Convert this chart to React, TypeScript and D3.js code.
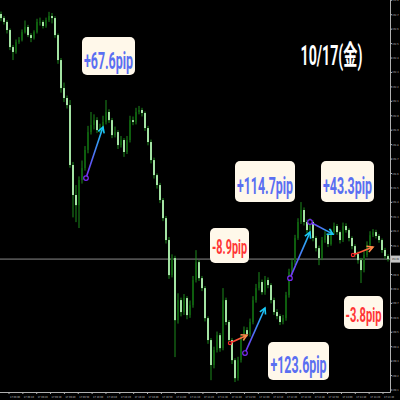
import React from 'react';
import * as d3 from 'd3';

// ---- data ----
const FIRST_OPEN = 152.705;
const closes = [
  152.677, 152.65, 152.594, 152.476, 152.442, 152.511, 152.525, 152.58, 152.615, 152.559,
  152.539, 152.58, 152.65, 152.65, 152.622, 152.663, 152.691, 152.677, 152.559, 152.386,
  152.192, 152.123, 152.074, 151.659, 151.451, 151.381, 151.555, 151.638, 151.763, 151.887,
  151.936, 151.97, 151.901, 151.915, 151.957, 152.026, 151.97, 151.866, 151.887, 151.797,
  151.832, 151.749, 151.832, 151.97, 151.957, 152.026, 152.04, 152.019, 151.915, 151.818,
  151.693, 151.589, 151.52, 151.416, 151.291, 151.139, 150.896, 151.014, 150.584, 150.723,
  150.64, 150.737, 150.619, 150.688, 150.862, 150.986, 150.875, 150.806, 150.598, 150.446,
  150.273, 150.377, 150.48, 150.39, 150.723, 150.571, 150.446, 150.307, 150.182, 150.307,
  150.46, 150.515, 150.487, 150.571, 150.723, 150.806, 150.848, 150.778, 150.862, 150.827,
  150.723, 150.64, 150.612, 150.571, 150.598, 150.758, 150.917, 150.986, 151.153, 151.264,
  151.347, 151.264, 151.208, 151.264, 151.153, 151.083, 151.014, 151.139, 151.173, 151.111,
  151.194, 151.236, 151.194, 151.139, 151.236, 151.208, 151.153, 151.097, 151.042, 151.0,
  150.931, 151.035, 151.104, 151.173, 151.194, 151.167, 151.139, 151.07, 151.028, 151.007,
];
const highs = [
  152.722, 152.69, 152.662, 152.605, 152.49, 152.528, 152.545, 152.598, 152.66, 152.63,
  152.572, 152.592, 152.672, 152.68, 152.662, 152.68, 152.72, 152.712, 152.69, 152.57,
  152.4, 152.23, 152.14, 152.109, 151.68, 151.52, 151.58, 151.69, 151.79, 151.93,
  152.026, 152.01, 151.99, 151.945, 152.0, 152.109, 152.045, 151.985, 151.925, 151.9,
  151.86, 151.845, 151.86, 152.0, 151.995, 152.055, 152.068, 152.055, 152.03, 151.93,
  151.835, 151.71, 151.6, 151.535, 151.43, 151.305, 151.16, 151.04, 151.03, 150.77,
  150.74, 150.765, 150.75, 150.72, 150.89, 151.069, 151.0, 150.89, 150.82, 150.61,
  150.46, 150.4, 150.505, 150.495, 150.806, 150.74, 150.585, 150.46, 150.32, 150.33,
  150.48, 150.54, 150.535, 150.595, 150.75, 150.835, 150.917, 150.865, 150.89, 150.88,
  150.84, 150.74, 150.66, 150.625, 150.62, 150.78, 150.94, 151.01, 151.175, 151.29,
  151.402, 151.365, 151.28, 151.29, 151.275, 151.165, 151.1, 151.16, 151.2, 151.185,
  151.215, 151.26, 151.25, 151.205, 151.26, 151.255, 151.22, 151.165, 151.11, 151.06,
  151.015, 151.06, 151.13, 151.2, 151.215, 151.21, 151.18, 151.15, 151.085, 151.04,
];
const lows = [
  152.655, 152.632, 152.57, 152.455, 152.386, 152.43, 152.498, 152.515, 152.57, 152.545,
  152.51, 152.528, 152.57, 152.625, 152.605, 152.61, 152.65, 152.64, 152.54, 152.36,
  152.16, 152.095, 152.05, 151.64, 151.296, 151.263, 151.222, 151.53, 151.62, 151.74,
  151.87, 151.905, 151.88, 151.88, 151.895, 151.94, 151.95, 151.845, 151.85, 151.77,
  151.78, 151.715, 151.735, 151.815, 151.935, 151.94, 152.01, 151.995, 151.895, 151.795,
  151.67, 151.565, 151.495, 151.395, 151.27, 151.115, 150.87, 150.88, 150.328, 150.56,
  150.61, 150.62, 150.59, 150.6, 150.67, 150.845, 150.855, 150.785, 150.575, 150.42,
  150.168, 150.25, 150.36, 150.365, 150.375, 150.55, 150.425, 150.28, 150.155, 150.165,
  150.29, 150.44, 150.47, 150.47, 150.555, 150.705, 150.79, 150.76, 150.76, 150.805,
  150.7, 150.62, 150.59, 150.55, 150.555, 150.58, 150.74, 150.895, 150.965, 151.14,
  151.25, 151.24, 151.185, 151.195, 151.13, 151.06, 150.965, 151.0, 151.12, 151.09,
  151.1, 151.18, 151.175, 151.115, 151.125, 151.19, 151.13, 151.075, 151.02, 150.975,
  150.841, 150.915, 151.02, 151.09, 151.16, 151.15, 151.12, 151.05, 151.01, 150.99,
];
const currentPrice = 151.007;

const priceTicks = [
  152.8, 152.7, 152.6, 152.5, 152.4, 152.3, 152.2, 152.1, 152.0, 151.9,
  151.8, 151.7, 151.6, 151.5, 151.4, 151.3, 151.2, 151.1, 151.0, 150.9,
  150.8, 150.7, 150.6, 150.5, 150.4, 150.3, 150.2, 150.1,
];
const timeLabels = [
  '17 09:00', '17 09:10', '17 09:20', '17 09:30', '17 09:40', '17 09:50', '17 10:00',
  '17 10:10', '17 10:20', '17 10:30', '17 10:40', '17 10:50', '17 11:00', '17 11:10',
  '17 11:20', '17 11:30', '17 11:40', '17 11:50', '17 12:00', '17 12:10', '17 12:20',
  '17 12:30', '17 12:40', '17 12:50', '17 13:00', '17 13:10', '17 13:20', '17 13:30',
];

// trades: entry/exit candle index and price
const tradeEntryIdx = [28.33, 76.33, 81.33, 96.33, 103, 117.33];
const tradeEntryPrice = [151.568, 150.425, 150.356, 150.875, 151.264, 151.035];
const tradeExitIdx = [34, 82, 88, 103, 110.67, 124];
const tradeExitPrice = [151.922, 150.48, 150.668, 151.194, 151.18, 151.09];
const tradeWin = [true, false, true, true, true, false];

const pipLabels = ['+67.6pip', '+114.7pip', '+43.3pip', '-8.9pip', '-3.8pip', '+123.6pip'];
const dateLabel = '10/17(金)';

// ---- layout (pixel placement of annotation boxes) ----
const labelBoxes = [
  { x: 82, y: 37, w: 53, h: 38, base: 68.5, tw: 49, fs: 23 },
  { x: 235, y: 161, w: 60, h: 41, base: 193.5, tw: 56, fs: 23 },
  { x: 321, y: 161, w: 53, h: 41, base: 193.5, tw: 49, fs: 23 },
  { x: 210, y: 228, w: 39, h: 35, base: 254, tw: 35, fs: 20 },
  { x: 344, y: 296, w: 39, h: 33, base: 321.5, tw: 36, fs: 20 },
  { x: 268, y: 342, w: 61, h: 38, base: 372.5, tw: 56, fs: 23 },
];

const W = 400, H = 400;
const AXIS_X = 390.5, AXIS_Y = 392.5;

export default function App() {
  const x = d3.scaleLinear().domain([0, closes.length - 1]).range([1, 388]);
  const y = d3.scaleLinear().domain([150.1, 152.8]).range([390, 0.3]);
  const tx = d3.scaleLinear().domain([0, timeLabels.length - 1]).range([10, 384]);

  const candles = closes.map((c, i) => {
    const o = i === 0 ? FIRST_OPEN : closes[i - 1];
    const cx = x(i);
    const up = c >= o;
    const top = y(Math.max(o, c));
    const bot = y(Math.min(o, c));
    return (
      <g key={i}>
        <line x1={cx} x2={cx} y1={y(highs[i])} y2={y(lows[i])} stroke="#1c8a1c" strokeWidth={1} />
        <rect x={cx - 1} y={top} width={2} height={Math.max(1, bot - top)} fill={up ? '#0e5e0e' : '#a3e3a3'} />
      </g>
    );
  });

  const trades = tradeEntryIdx.map((ei, k) => {
    const x1 = x(ei), y1 = y(tradeEntryPrice[k]);
    const x2 = x(tradeExitIdx[k]), y2 = y(tradeExitPrice[k]);
    const c1 = tradeWin[k] ? '#7a2cf5' : '#ff2a2a';
    const c2 = tradeWin[k] ? '#19c8f5' : '#ff8a4a';
    const ang = Math.atan2(y2 - y1, x2 - x1);
    const L = 6.5, a = 0.5;
    const hx1 = x2 - L * Math.cos(ang - a), hy1 = y2 - L * Math.sin(ang - a);
    const hx2 = x2 - L * Math.cos(ang + a), hy2 = y2 - L * Math.sin(ang + a);
    const gid = `g${k}`;
    return (
      <g key={k}>
        <defs>
          <linearGradient id={gid} gradientUnits="userSpaceOnUse" x1={x1} y1={y1} x2={x2} y2={y2}>
            <stop offset="0" stopColor={c1} />
            <stop offset="1" stopColor={c2} />
          </linearGradient>
        </defs>
        <line x1={x1} y1={y1} x2={x2} y2={y2} stroke={`url(#${gid})`} strokeWidth={1.6} />
        <polyline points={`${hx1},${hy1} ${x2},${y2} ${hx2},${hy2}`} fill="none" stroke={c2} strokeWidth={1.6} />
        <circle cx={x1} cy={y1} r={tradeWin[k] ? 2.3 : 1.6} fill="#000" stroke={c1} strokeWidth={1.2} />
      </g>
    );
  });

  return (
    <svg width={W} height={H} style={{ position: 'fixed', left: 0, top: 0, display: 'block', background: '#000' }}>
      <rect x={0} y={0} width={W} height={H} fill="#000" />
      {/* current price line */}
      <line x1={0} x2={AXIS_X} y1={y(currentPrice)} y2={y(currentPrice)} stroke="#8a8a8a" strokeWidth={1} />
      {candles}
      {trades}
      {/* axes */}
      <line x1={AXIS_X} x2={AXIS_X} y1={0} y2={AXIS_Y} stroke="#b0b0b0" strokeWidth={1} />
      <line x1={0} x2={AXIS_X} y1={AXIS_Y} y2={AXIS_Y} stroke="#b0b0b0" strokeWidth={1} />
      {priceTicks.map((t, i) => (
        <g key={i}>
          <line x1={AXIS_X} x2={AXIS_X + 1.5} y1={y(t)} y2={y(t)} stroke="#b0b0b0" />
          <text x={392.3} y={y(t) + 1} fontSize={2.6} fill="#c8c8c8" fontFamily="DejaVu Sans" textLength={6.3} lengthAdjust="spacingAndGlyphs">
            {t.toFixed(1)}
          </text>
        </g>
      ))}
      <rect x={391} y={y(currentPrice) - 3.5} width={9} height={7} fill="#c4c4c4" />
      <text x={392} y={y(currentPrice) + 1} fontSize={2.6} fill="#000" fontFamily="DejaVu Sans" textLength={7} lengthAdjust="spacingAndGlyphs">
        {currentPrice.toFixed(2)}
      </text>
      {timeLabels.map((s, i) => (
        <g key={i}>
          <line x1={tx(i) - 1} x2={tx(i) - 1} y1={AXIS_Y} y2={AXIS_Y + 1.5} stroke="#b0b0b0" />
          <text x={tx(i)} y={397.8} fontSize={2.6} fill="#c8c8c8" fontFamily="DejaVu Sans" textLength={10} lengthAdjust="spacingAndGlyphs">
            {s}
          </text>
        </g>
      ))}
      {/* pip labels */}
      {pipLabels.map((s, i) => {
        const b = labelBoxes[i];
        const red = s.startsWith('-');
        return (
          <g key={i}>
            <rect x={b.x} y={b.y} width={b.w} height={b.h} rx={5} ry={5} fill="#fff8ea" />
            <text x={b.x + b.w / 2} y={b.base} textAnchor="middle" fontSize={b.fs} fontWeight="bold"
              fontFamily="Roboto, 'Noto Sans', sans-serif" fill={red ? '#ff3535' : '#5a6ff2'}
              textLength={b.tw} lengthAdjust="spacingAndGlyphs">
              {s}
            </text>
          </g>
        );
      })}
      <text x={331.5} y={65} textAnchor="middle" fontSize={27} fontWeight="bold"
        fontFamily="Roboto, 'Noto Sans CJK JP', sans-serif" fill="#ffffff" textLength={62} lengthAdjust="spacingAndGlyphs">
        {dateLabel}
      </text>
    </svg>
  );
}
